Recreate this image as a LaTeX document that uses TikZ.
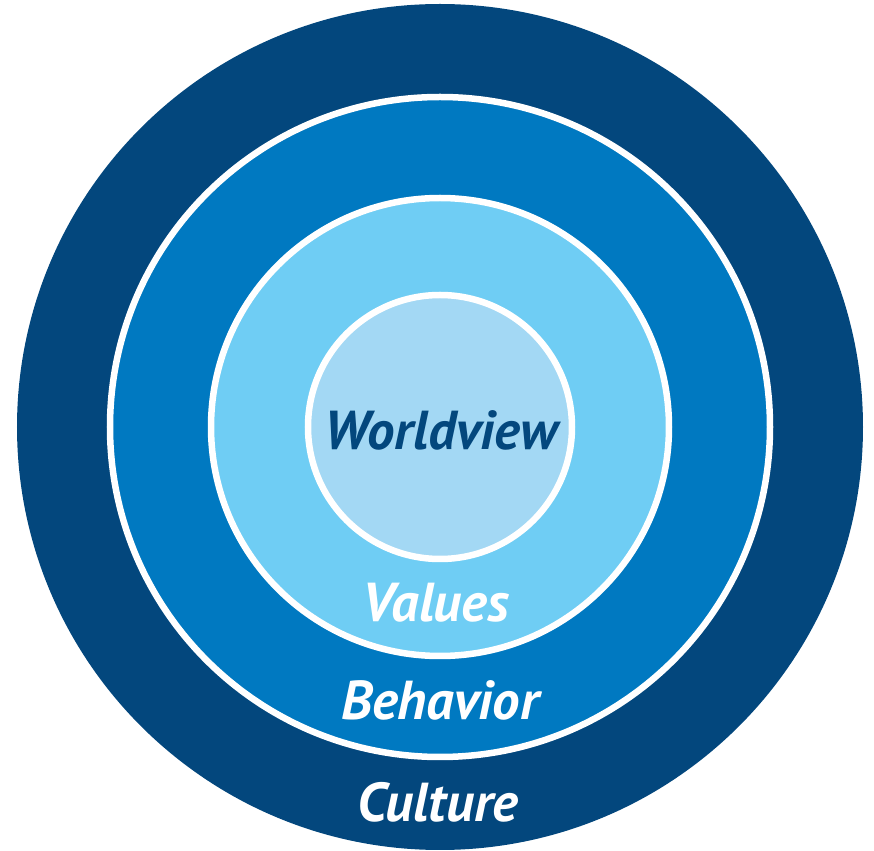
\documentclass[tikz,border=0pt]{standalone}
\usepackage{fontspec}
\setmainfont{PT Sans}
\definecolor{culture}{RGB}{3,71,125}
\definecolor{behavior}{RGB}{0,121,193}
\definecolor{values}{RGB}{111,205,244}
\definecolor{worldview}{RGB}{163,216,244}
\tikzset{label/.style={font=\fontsize{15.6}{18}\selectfont\bfseries\itshape, text=white, inner sep=0pt}}
\begin{document}
\begin{tikzpicture}
\useasboundingbox (0,0) rectangle (8.74,8.51);

  \coordinate (O) at (4.40,4.24);
  \fill[culture] (O) circle (4.23);
  \foreach \r/\col in {3.30/behavior, 2.29/values, 1.32/worldview}
  	\filldraw[fill=\col, draw=white, line width=0.065cm] (O) circle (\r);

  \node[label, text=culture] (wv) at (4.41,4.21) {Worldview};
  \node[label] (val) at (4.36,2.48) {Values};
  \node[label] (beh) at (4.40,1.51) {Behavior};
  \node[label] (cul) at (4.38,0.49) {Culture};
\end{tikzpicture}
\end{document}
